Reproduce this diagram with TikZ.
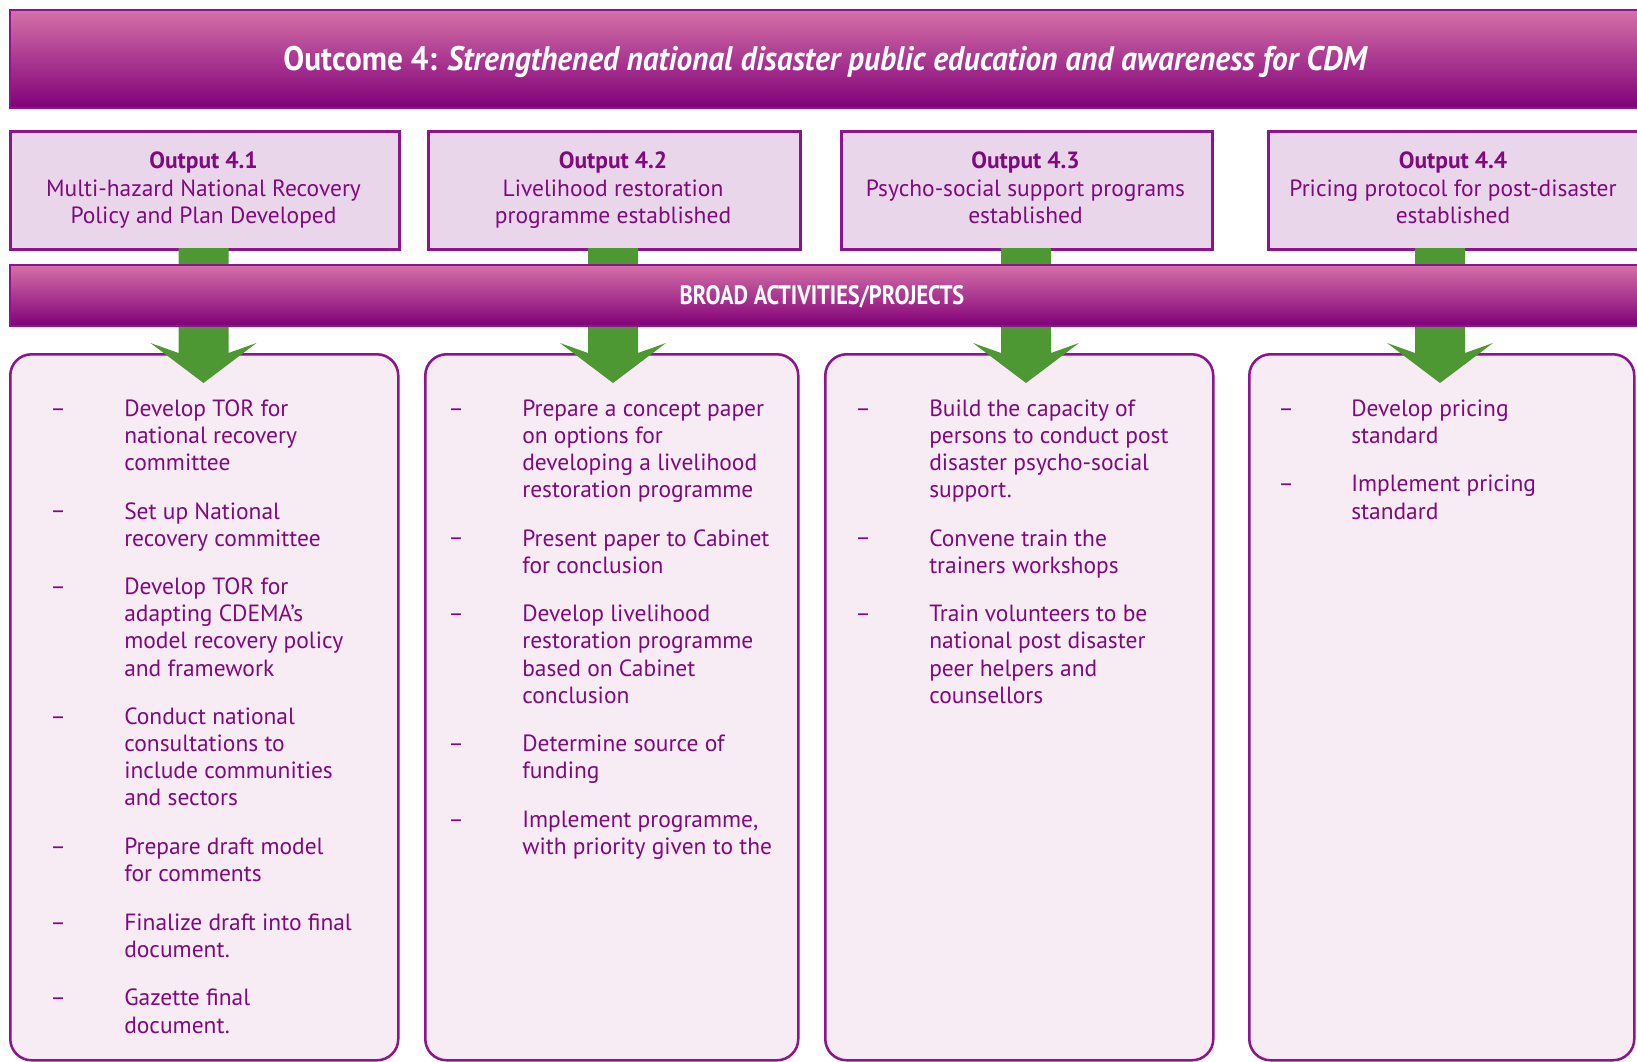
\documentclass[tikz,border=0pt]{standalone}
\usepackage{fontspec}
\setmainfont{PT Sans}
\newfontfamily\titlecond[FakeStretch=0.92]{PT Sans}
\newfontfamily\barcond[FakeStretch=0.84]{PT Sans}
\usetikzlibrary{calc}
\definecolor{bordpur}{RGB}{140,20,140}
\definecolor{txtpur}{RGB}{128,10,125}
\definecolor{outfill}{RGB}{233,214,234}
\definecolor{actfill}{RGB}{247,235,244}
\definecolor{arrgreen}{RGB}{78,152,52}
\definecolor{bartop}{RGB}{213,112,168}
\definecolor{barbot}{RGB}{128,0,120}
\newcommand\itemfont{\fontsize{17.6}{20.325}\selectfont}
\newcommand\actitem[5]{%
  \node[dashst] (#1d) at (#2,#4) {–};
  \node[itemst] (#1) at (#3,#4-18.97) {\strut #5};
}
\newcommand\greenarrow[1]{%
  \fill[arrgreen] ($(#1)+(-25,0)$) -- ($(#1)+(25,0)$) -- ($(#1)+(25,105)$) -- ($(#1)+(53,95)$)
    -- ($(#1)+(0,135)$) -- ($(#1)+(-53,95)$) -- ($(#1)+(-25,105)$) -- cycle;
}
\begin{document}
\begin{tikzpicture}[x=0.75pt,y=-0.75pt,
  barst/.style={draw=bordpur, line width=1.6pt, top color=bartop, bottom color=barbot, inner sep=0, anchor=north west, minimum height=#1},
  outbox/.style={draw=bordpur, line width=2pt, fill=outfill, inner sep=0, anchor=north west, minimum height=88.5pt},
  actbox/.style={draw=bordpur, line width=1.9pt, fill=actfill, rounded corners=16pt, inner sep=0, anchor=north west, minimum height=529.5pt},
  outhead/.style={anchor=base, inner sep=0, text=txtpur, font=\itemfont\bfseries},
  outdesc/.style={anchor=north, inner sep=0, align=center, text=txtpur, font=\itemfont},
  itemst/.style={anchor=north west, inner sep=0, align=left, text=txtpur, font=\itemfont},
  dashst/.style={anchor=base west, inner sep=0, text=txtpur, font=\itemfont},
  bartext/.style={anchor=base, inner sep=0, text=white}
]
\clip (0,0) rectangle (1637,1061);
\useasboundingbox (0,0) rectangle (1637,1061);
\fill[white] (0,0) rectangle (1637,1061);

% title bar
\node[barst=73.5pt, minimum width=1247.25pt] (titlebar) at (9,9) {};
\node[bartext, font=\titlecond\fontsize{25.5}{30}\selectfont\bfseries] (title) at (825,70) {Outcome 4: \itshape Strengthened national disaster public education and awareness for CDM};

% output boxes
\node[outbox, minimum width=291.75pt] (ob1) at (9,130) {};
\node[outbox, minimum width=279pt] (ob2) at (427,130) {};
\node[outbox, minimum width=278.25pt] (ob3) at (840,130) {};
\node[outbox, minimum width=300pt] (ob4) at (1267,130) {};

\node[outhead] (o1h) at (203.5,168) {Output 4.1};
\node[outdesc] (o1d) at (203.5,196.5-18.97) {\strut Multi-hazard National Recovery\\Policy and Plan Developed};
\node[outhead] (o2h) at (613,168) {Output 4.2};
\node[outdesc] (o2d) at (613,196.5-18.97) {\strut Livelihood restoration\\programme established};
\node[outhead] (o3h) at (1025.5,168) {Output 4.3};
\node[outdesc] (o3d) at (1025.5,196.5-18.97) {\strut Psycho-social support programs\\established};
\node[outhead] (o4h) at (1453,168) {Output 4.4};
\node[outdesc] (o4d) at (1453,196.5-18.97) {\strut Pricing protocol for post-disaster\\established};

% activity boxes
\node[actbox, minimum width=291pt] (ab1) at (9,353) {};
\node[actbox, minimum width=279.75pt] (ab2) at (424,353) {};
\node[actbox, minimum width=291pt] (ab3) at (824,353) {};
\node[actbox, minimum width=288.75pt] (ab4) at (1248,353) {};

% arrows (connectors)
\coordinate (a1) at (203.5,248);
\coordinate (a2) at (613,248);
\coordinate (a3) at (1026,248);
\coordinate (a4) at (1440,248);
\greenarrow{a1}
\greenarrow{a2}
\greenarrow{a3}
\greenarrow{a4}

% broad bar
\node[barst=45.75pt, minimum width=1247.25pt] (broadbar) at (9,264) {};
\node[bartext, font=\barcond\fontsize{20}{24}\selectfont\bfseries] (broad) at (822,304) {BROAD ACTIVITIES/PROJECTS};

% column 1
\actitem{i11}{50}{124}{416}{Develop TOR for\\national recovery\\committee}
\actitem{i12}{50}{124}{518.8}{Set up National\\recovery committee}
\actitem{i13}{50}{124}{594.5}{Develop TOR for\\adapting CDEMA's\\model recovery policy\\and framework}
\actitem{i14}{50}{124}{724.4}{Conduct national\\consultations to\\include communities\\and sectors}
\actitem{i15}{50}{124}{854.3}{Prepare draft model\\for comments}
\actitem{i16}{50}{124}{930}{Finalize draft into final\\document.}
\actitem{i17}{50}{124}{1005.7}{Gazette final\\document.}

% column 2
\actitem{i21}{448}{522}{416}{Prepare a concept paper\\on options for\\developing a livelihood\\restoration programme}
\actitem{i22}{448}{522}{545.9}{Present paper to Cabinet\\for conclusion}
\actitem{i23}{448}{522}{621.6}{Develop livelihood\\restoration programme\\based on Cabinet\\conclusion}
\actitem{i24}{448}{522}{751.5}{Determine source of\\funding}
\actitem{i25}{448}{522}{827.2}{Implement programme,\\with priority given to the}

% column 3
\actitem{i31}{855}{929}{416}{Build the capacity of\\persons to conduct post\\disaster psycho-social\\support.}
\actitem{i32}{855}{929}{545.9}{Convene train the\\trainers workshops}
\actitem{i33}{855}{929}{621.6}{Train volunteers to be\\national post disaster\\peer helpers and\\counsellors}

% column 4
\actitem{i41}{1278}{1351}{416}{Develop pricing\\standard}
\actitem{i42}{1278}{1351}{491.7}{Implement pricing\\standard}
\end{tikzpicture}
\end{document}
